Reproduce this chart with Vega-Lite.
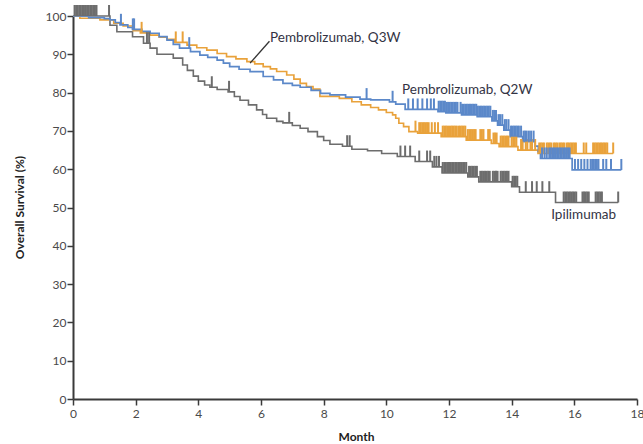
{
  "$schema": "https://vega.github.io/schema/vega-lite/v6.json",
  "width": 564,
  "height": 383,
  "autosize": "none",
  "padding": {"left": 73, "top": 16, "right": 6, "bottom": 45},
  "background": "white",
  "config": {"view": {"stroke": null}, "font": "Lato"},
  "datasets": {
    "curves": [
      {"arm": "Ipilimumab", "t": 0, "s": 100}, {"arm": "Ipilimumab", "t": 1.18, "s": 97.6}, {"arm": "Ipilimumab", "t": 1.4, "s": 95.9}, {"arm": "Ipilimumab", "t": 1.9, "s": 94.6}, {"arm": "Ipilimumab", "t": 2.25, "s": 92.9}, {"arm": "Ipilimumab", "t": 2.46, "s": 91.6}, {"arm": "Ipilimumab", "t": 2.68, "s": 90.0}, {"arm": "Ipilimumab", "t": 3.2, "s": 89.0}, {"arm": "Ipilimumab", "t": 3.5, "s": 87.2}, {"arm": "Ipilimumab", "t": 3.65, "s": 85.8}, {"arm": "Ipilimumab", "t": 3.84, "s": 84.3}, {"arm": "Ipilimumab", "t": 4.0, "s": 83.0}, {"arm": "Ipilimumab", "t": 4.2, "s": 82.0}, {"arm": "Ipilimumab", "t": 4.37, "s": 81.4}, {"arm": "Ipilimumab", "t": 4.6, "s": 80.8}, {"arm": "Ipilimumab", "t": 4.95, "s": 80.2}, {"arm": "Ipilimumab", "t": 5.15, "s": 79.0}, {"arm": "Ipilimumab", "t": 5.33, "s": 78.0}, {"arm": "Ipilimumab", "t": 5.6, "s": 76.8}, {"arm": "Ipilimumab", "t": 5.86, "s": 75.5}, {"arm": "Ipilimumab", "t": 6.05, "s": 74.3}, {"arm": "Ipilimumab", "t": 6.18, "s": 73.3}, {"arm": "Ipilimumab", "t": 6.5, "s": 72.5}, {"arm": "Ipilimumab", "t": 6.7, "s": 72.1}, {"arm": "Ipilimumab", "t": 7.0, "s": 71.4}, {"arm": "Ipilimumab", "t": 7.25, "s": 70.7}, {"arm": "Ipilimumab", "t": 7.5, "s": 69.8}, {"arm": "Ipilimumab", "t": 7.8, "s": 68.5}, {"arm": "Ipilimumab", "t": 8.0, "s": 67.5}, {"arm": "Ipilimumab", "t": 8.2, "s": 66.5}, {"arm": "Ipilimumab", "t": 8.6, "s": 66.0}, {"arm": "Ipilimumab", "t": 8.9, "s": 65.2}, {"arm": "Ipilimumab", "t": 9.4, "s": 64.8}, {"arm": "Ipilimumab", "t": 9.85, "s": 64.1}, {"arm": "Ipilimumab", "t": 10.35, "s": 63.3}, {"arm": "Ipilimumab", "t": 10.92, "s": 62.0}, {"arm": "Ipilimumab", "t": 11.47, "s": 60.6}, {"arm": "Ipilimumab", "t": 11.78, "s": 59.0}, {"arm": "Ipilimumab", "t": 12.6, "s": 58.0}, {"arm": "Ipilimumab", "t": 12.95, "s": 56.7}, {"arm": "Ipilimumab", "t": 14.0, "s": 55.4}, {"arm": "Ipilimumab", "t": 14.25, "s": 54.0}, {"arm": "Ipilimumab", "t": 15.4, "s": 51.3}, {"arm": "Ipilimumab", "t": 17.4, "s": 51.3},

      {"arm": "Q3W", "t": 0, "s": 100}, {"arm": "Q3W", "t": 0.22, "s": 99.4}, {"arm": "Q3W", "t": 0.86, "s": 99.0}, {"arm": "Q3W", "t": 1.3, "s": 98.1}, {"arm": "Q3W", "t": 1.6, "s": 97.4}, {"arm": "Q3W", "t": 1.92, "s": 96.2}, {"arm": "Q3W", "t": 2.15, "s": 95.6}, {"arm": "Q3W", "t": 2.46, "s": 95.0}, {"arm": "Q3W", "t": 2.75, "s": 94.5}, {"arm": "Q3W", "t": 3.0, "s": 93.9}, {"arm": "Q3W", "t": 3.25, "s": 93.1}, {"arm": "Q3W", "t": 3.64, "s": 92.4}, {"arm": "Q3W", "t": 3.95, "s": 91.7}, {"arm": "Q3W", "t": 4.27, "s": 91.1}, {"arm": "Q3W", "t": 4.6, "s": 90.2}, {"arm": "Q3W", "t": 4.9, "s": 89.4}, {"arm": "Q3W", "t": 5.2, "s": 88.8}, {"arm": "Q3W", "t": 5.55, "s": 88.1}, {"arm": "Q3W", "t": 5.8, "s": 87.5}, {"arm": "Q3W", "t": 6.07, "s": 86.8}, {"arm": "Q3W", "t": 6.3, "s": 86.2}, {"arm": "Q3W", "t": 6.5, "s": 85.5}, {"arm": "Q3W", "t": 6.82, "s": 84.6}, {"arm": "Q3W", "t": 7.05, "s": 83.5}, {"arm": "Q3W", "t": 7.25, "s": 82.4}, {"arm": "Q3W", "t": 7.45, "s": 81.6}, {"arm": "Q3W", "t": 7.66, "s": 80.9}, {"arm": "Q3W", "t": 7.88, "s": 79.0}, {"arm": "Q3W", "t": 8.5, "s": 78.5}, {"arm": "Q3W", "t": 8.9, "s": 77.6}, {"arm": "Q3W", "t": 9.2, "s": 76.8}, {"arm": "Q3W", "t": 9.5, "s": 76.1}, {"arm": "Q3W", "t": 9.75, "s": 75.5}, {"arm": "Q3W", "t": 10.0, "s": 74.8}, {"arm": "Q3W", "t": 10.2, "s": 74.2}, {"arm": "Q3W", "t": 10.3, "s": 73.3}, {"arm": "Q3W", "t": 10.4, "s": 72.0}, {"arm": "Q3W", "t": 10.55, "s": 71.1}, {"arm": "Q3W", "t": 10.72, "s": 69.8}, {"arm": "Q3W", "t": 11.0, "s": 69.4}, {"arm": "Q3W", "t": 11.75, "s": 68.5}, {"arm": "Q3W", "t": 12.55, "s": 67.6}, {"arm": "Q3W", "t": 13.35, "s": 66.7}, {"arm": "Q3W", "t": 13.6, "s": 65.9}, {"arm": "Q3W", "t": 14.2, "s": 65.0}, {"arm": "Q3W", "t": 14.84, "s": 64.1}, {"arm": "Q3W", "t": 17.24, "s": 64.1},

      {"arm": "Q2W", "t": 0, "s": 100}, {"arm": "Q2W", "t": 0.5, "s": 99.6}, {"arm": "Q2W", "t": 1.0, "s": 99.3}, {"arm": "Q2W", "t": 1.18, "s": 99.0}, {"arm": "Q2W", "t": 1.35, "s": 98.3}, {"arm": "Q2W", "t": 1.5, "s": 97.7}, {"arm": "Q2W", "t": 1.75, "s": 97.0}, {"arm": "Q2W", "t": 1.9, "s": 96.5}, {"arm": "Q2W", "t": 2.2, "s": 96.0}, {"arm": "Q2W", "t": 2.46, "s": 95.5}, {"arm": "Q2W", "t": 2.75, "s": 94.6}, {"arm": "Q2W", "t": 3.0, "s": 93.7}, {"arm": "Q2W", "t": 3.2, "s": 92.6}, {"arm": "Q2W", "t": 3.4, "s": 91.6}, {"arm": "Q2W", "t": 3.75, "s": 90.7}, {"arm": "Q2W", "t": 4.05, "s": 89.8}, {"arm": "Q2W", "t": 4.3, "s": 89.2}, {"arm": "Q2W", "t": 4.6, "s": 88.5}, {"arm": "Q2W", "t": 4.8, "s": 87.7}, {"arm": "Q2W", "t": 5.0, "s": 86.8}, {"arm": "Q2W", "t": 5.3, "s": 86.1}, {"arm": "Q2W", "t": 5.65, "s": 85.5}, {"arm": "Q2W", "t": 6.07, "s": 84.2}, {"arm": "Q2W", "t": 6.4, "s": 83.3}, {"arm": "Q2W", "t": 6.7, "s": 82.4}, {"arm": "Q2W", "t": 7.0, "s": 81.9}, {"arm": "Q2W", "t": 7.25, "s": 81.4}, {"arm": "Q2W", "t": 7.6, "s": 80.6}, {"arm": "Q2W", "t": 7.9, "s": 79.8}, {"arm": "Q2W", "t": 8.2, "s": 79.4}, {"arm": "Q2W", "t": 8.7, "s": 78.8}, {"arm": "Q2W", "t": 9.16, "s": 78.3}, {"arm": "Q2W", "t": 9.5, "s": 78.1}, {"arm": "Q2W", "t": 10.1, "s": 77.6}, {"arm": "Q2W", "t": 10.3, "s": 77.0}, {"arm": "Q2W", "t": 10.6, "s": 75.6}, {"arm": "Q2W", "t": 11.65, "s": 75.0}, {"arm": "Q2W", "t": 11.9, "s": 74.7}, {"arm": "Q2W", "t": 12.4, "s": 74.2}, {"arm": "Q2W", "t": 12.9, "s": 73.7}, {"arm": "Q2W", "t": 13.37, "s": 72.6}, {"arm": "Q2W", "t": 13.55, "s": 71.5}, {"arm": "Q2W", "t": 13.75, "s": 70.2}, {"arm": "Q2W", "t": 13.95, "s": 68.5}, {"arm": "Q2W", "t": 14.35, "s": 67.2}, {"arm": "Q2W", "t": 14.75, "s": 66.0}, {"arm": "Q2W", "t": 14.85, "s": 64.6}, {"arm": "Q2W", "t": 14.92, "s": 62.8}, {"arm": "Q2W", "t": 15.93, "s": 59.8}, {"arm": "Q2W", "t": 17.5, "s": 59.8}
    ],
    "censors": [
      {"arm": "Ipilimumab", "t": 0.05, "s": 100}, {"arm": "Ipilimumab", "t": 0.1, "s": 100}, {"arm": "Ipilimumab", "t": 0.15, "s": 100}, {"arm": "Ipilimumab", "t": 0.2, "s": 100}, {"arm": "Ipilimumab", "t": 0.25, "s": 100}, {"arm": "Ipilimumab", "t": 0.3, "s": 100}, {"arm": "Ipilimumab", "t": 0.35, "s": 100}, {"arm": "Ipilimumab", "t": 0.4, "s": 100}, {"arm": "Ipilimumab", "t": 0.45, "s": 100}, {"arm": "Ipilimumab", "t": 0.5, "s": 100}, {"arm": "Ipilimumab", "t": 0.55, "s": 100}, {"arm": "Ipilimumab", "t": 0.6, "s": 100}, {"arm": "Ipilimumab", "t": 0.65, "s": 100}, {"arm": "Ipilimumab", "t": 0.7, "s": 100}, {"arm": "Ipilimumab", "t": 0.75, "s": 100},
      {"arm": "Ipilimumab", "t": 1.15, "s": 100}, {"arm": "Ipilimumab", "t": 2.36, "s": 92.9}, {"arm": "Ipilimumab", "t": 2.43, "s": 92.9}, {"arm": "Ipilimumab", "t": 4.43, "s": 81.4}, {"arm": "Ipilimumab", "t": 4.98, "s": 80.2}, {"arm": "Ipilimumab", "t": 6.9, "s": 72.1}, {"arm": "Ipilimumab", "t": 8.75, "s": 66.0}, {"arm": "Ipilimumab", "t": 8.83, "s": 66.0},
      {"arm": "Ipilimumab", "t": 10.45, "s": 63.3}, {"arm": "Ipilimumab", "t": 10.6, "s": 63.3}, {"arm": "Ipilimumab", "t": 10.76, "s": 63.3}, {"arm": "Ipilimumab", "t": 11.05, "s": 62.0}, {"arm": "Ipilimumab", "t": 11.3, "s": 62.0}, {"arm": "Ipilimumab", "t": 11.4, "s": 62.0}, {"arm": "Ipilimumab", "t": 11.53, "s": 60.6}, {"arm": "Ipilimumab", "t": 11.6, "s": 60.6}, {"arm": "Ipilimumab", "t": 11.68, "s": 60.6},
      {"arm": "Ipilimumab", "t": 11.8, "s": 59.0}, {"arm": "Ipilimumab", "t": 11.85, "s": 59.0}, {"arm": "Ipilimumab", "t": 11.9, "s": 59.0}, {"arm": "Ipilimumab", "t": 11.95, "s": 59.0}, {"arm": "Ipilimumab", "t": 12.0, "s": 59.0}, {"arm": "Ipilimumab", "t": 12.05, "s": 59.0}, {"arm": "Ipilimumab", "t": 12.1, "s": 59.0}, {"arm": "Ipilimumab", "t": 12.15, "s": 59.0}, {"arm": "Ipilimumab", "t": 12.2, "s": 59.0}, {"arm": "Ipilimumab", "t": 12.25, "s": 59.0}, {"arm": "Ipilimumab", "t": 12.3, "s": 59.0}, {"arm": "Ipilimumab", "t": 12.35, "s": 59.0}, {"arm": "Ipilimumab", "t": 12.4, "s": 59.0}, {"arm": "Ipilimumab", "t": 12.45, "s": 59.0}, {"arm": "Ipilimumab", "t": 12.5, "s": 59.0}, {"arm": "Ipilimumab", "t": 12.55, "s": 59.0},
      {"arm": "Ipilimumab", "t": 12.64, "s": 58.0}, {"arm": "Ipilimumab", "t": 12.69, "s": 58.0}, {"arm": "Ipilimumab", "t": 12.74, "s": 58.0}, {"arm": "Ipilimumab", "t": 12.79, "s": 58.0}, {"arm": "Ipilimumab", "t": 12.84, "s": 58.0}, {"arm": "Ipilimumab", "t": 12.89, "s": 58.0},
      {"arm": "Ipilimumab", "t": 13.0, "s": 56.7}, {"arm": "Ipilimumab", "t": 13.05, "s": 56.7}, {"arm": "Ipilimumab", "t": 13.1, "s": 56.7}, {"arm": "Ipilimumab", "t": 13.15, "s": 56.7}, {"arm": "Ipilimumab", "t": 13.2, "s": 56.7}, {"arm": "Ipilimumab", "t": 13.25, "s": 56.7}, {"arm": "Ipilimumab", "t": 13.3, "s": 56.7}, {"arm": "Ipilimumab", "t": 13.4, "s": 56.7}, {"arm": "Ipilimumab", "t": 13.45, "s": 56.7}, {"arm": "Ipilimumab", "t": 13.5, "s": 56.7}, {"arm": "Ipilimumab", "t": 13.55, "s": 56.7}, {"arm": "Ipilimumab", "t": 13.65, "s": 56.7}, {"arm": "Ipilimumab", "t": 13.7, "s": 56.7}, {"arm": "Ipilimumab", "t": 13.75, "s": 56.7}, {"arm": "Ipilimumab", "t": 13.8, "s": 56.7}, {"arm": "Ipilimumab", "t": 13.85, "s": 56.7}, {"arm": "Ipilimumab", "t": 13.9, "s": 56.7},
      {"arm": "Ipilimumab", "t": 14.03, "s": 55.4}, {"arm": "Ipilimumab", "t": 14.08, "s": 55.4}, {"arm": "Ipilimumab", "t": 14.13, "s": 55.4}, {"arm": "Ipilimumab", "t": 14.18, "s": 55.4},
      {"arm": "Ipilimumab", "t": 14.45, "s": 54.0}, {"arm": "Ipilimumab", "t": 14.65, "s": 54.0}, {"arm": "Ipilimumab", "t": 14.8, "s": 54.0}, {"arm": "Ipilimumab", "t": 14.98, "s": 54.0}, {"arm": "Ipilimumab", "t": 15.2, "s": 54.0},
      {"arm": "Ipilimumab", "t": 15.66, "s": 51.3}, {"arm": "Ipilimumab", "t": 15.71, "s": 51.3}, {"arm": "Ipilimumab", "t": 15.76, "s": 51.3}, {"arm": "Ipilimumab", "t": 15.81, "s": 51.3}, {"arm": "Ipilimumab", "t": 15.86, "s": 51.3}, {"arm": "Ipilimumab", "t": 15.91, "s": 51.3}, {"arm": "Ipilimumab", "t": 15.96, "s": 51.3}, {"arm": "Ipilimumab", "t": 16.01, "s": 51.3}, {"arm": "Ipilimumab", "t": 16.06, "s": 51.3},
      {"arm": "Ipilimumab", "t": 16.26, "s": 51.3}, {"arm": "Ipilimumab", "t": 16.31, "s": 51.3}, {"arm": "Ipilimumab", "t": 16.36, "s": 51.3}, {"arm": "Ipilimumab", "t": 16.41, "s": 51.3}, {"arm": "Ipilimumab", "t": 16.46, "s": 51.3},
      {"arm": "Ipilimumab", "t": 16.68, "s": 51.3}, {"arm": "Ipilimumab", "t": 16.73, "s": 51.3}, {"arm": "Ipilimumab", "t": 16.78, "s": 51.3}, {"arm": "Ipilimumab", "t": 16.83, "s": 51.3}, {"arm": "Ipilimumab", "t": 16.88, "s": 51.3}, {"arm": "Ipilimumab", "t": 17.4, "s": 51.3},

      {"arm": "Q3W", "t": 2.19, "s": 95.6}, {"arm": "Q3W", "t": 3.28, "s": 93.1}, {"arm": "Q3W", "t": 3.5, "s": 93.1},
      {"arm": "Q3W", "t": 10.93, "s": 69.8}, {"arm": "Q3W", "t": 11.05, "s": 69.4}, {"arm": "Q3W", "t": 11.1, "s": 69.4}, {"arm": "Q3W", "t": 11.15, "s": 69.4}, {"arm": "Q3W", "t": 11.2, "s": 69.4}, {"arm": "Q3W", "t": 11.25, "s": 69.4}, {"arm": "Q3W", "t": 11.3, "s": 69.4}, {"arm": "Q3W", "t": 11.35, "s": 69.4}, {"arm": "Q3W", "t": 11.45, "s": 69.4}, {"arm": "Q3W", "t": 11.55, "s": 69.4}, {"arm": "Q3W", "t": 11.65, "s": 69.4},
      {"arm": "Q3W", "t": 11.8, "s": 68.5}, {"arm": "Q3W", "t": 11.85, "s": 68.5}, {"arm": "Q3W", "t": 11.9, "s": 68.5}, {"arm": "Q3W", "t": 11.95, "s": 68.5}, {"arm": "Q3W", "t": 12.0, "s": 68.5}, {"arm": "Q3W", "t": 12.05, "s": 68.5}, {"arm": "Q3W", "t": 12.1, "s": 68.5}, {"arm": "Q3W", "t": 12.15, "s": 68.5}, {"arm": "Q3W", "t": 12.2, "s": 68.5}, {"arm": "Q3W", "t": 12.25, "s": 68.5}, {"arm": "Q3W", "t": 12.32, "s": 68.5}, {"arm": "Q3W", "t": 12.37, "s": 68.5}, {"arm": "Q3W", "t": 12.42, "s": 68.5}, {"arm": "Q3W", "t": 12.47, "s": 68.5}, {"arm": "Q3W", "t": 12.52, "s": 68.5},
      {"arm": "Q3W", "t": 12.6, "s": 67.6}, {"arm": "Q3W", "t": 12.65, "s": 67.6}, {"arm": "Q3W", "t": 12.7, "s": 67.6}, {"arm": "Q3W", "t": 12.75, "s": 67.6}, {"arm": "Q3W", "t": 12.8, "s": 67.6}, {"arm": "Q3W", "t": 12.85, "s": 67.6}, {"arm": "Q3W", "t": 13.0, "s": 67.6}, {"arm": "Q3W", "t": 13.05, "s": 67.6}, {"arm": "Q3W", "t": 13.1, "s": 67.6}, {"arm": "Q3W", "t": 13.25, "s": 67.6}, {"arm": "Q3W", "t": 13.3, "s": 67.6},
      {"arm": "Q3W", "t": 13.42, "s": 66.7}, {"arm": "Q3W", "t": 13.47, "s": 66.7}, {"arm": "Q3W", "t": 13.52, "s": 66.7},
      {"arm": "Q3W", "t": 13.65, "s": 65.9}, {"arm": "Q3W", "t": 13.7, "s": 65.9}, {"arm": "Q3W", "t": 13.75, "s": 65.9}, {"arm": "Q3W", "t": 13.8, "s": 65.9}, {"arm": "Q3W", "t": 13.85, "s": 65.9}, {"arm": "Q3W", "t": 13.9, "s": 65.9}, {"arm": "Q3W", "t": 14.0, "s": 65.9}, {"arm": "Q3W", "t": 14.05, "s": 65.9}, {"arm": "Q3W", "t": 14.1, "s": 65.9}, {"arm": "Q3W", "t": 14.15, "s": 65.9},
      {"arm": "Q3W", "t": 14.3, "s": 65.0}, {"arm": "Q3W", "t": 14.35, "s": 65.0}, {"arm": "Q3W", "t": 14.45, "s": 65.0}, {"arm": "Q3W", "t": 14.5, "s": 65.0}, {"arm": "Q3W", "t": 14.6, "s": 65.0}, {"arm": "Q3W", "t": 14.65, "s": 65.0}, {"arm": "Q3W", "t": 14.75, "s": 65.0},
      {"arm": "Q3W", "t": 14.88, "s": 64.1}, {"arm": "Q3W", "t": 14.93, "s": 64.1}, {"arm": "Q3W", "t": 14.98, "s": 64.1}, {"arm": "Q3W", "t": 15.03, "s": 64.1}, {"arm": "Q3W", "t": 15.12, "s": 64.1}, {"arm": "Q3W", "t": 15.17, "s": 64.1}, {"arm": "Q3W", "t": 15.22, "s": 64.1}, {"arm": "Q3W", "t": 15.27, "s": 64.1}, {"arm": "Q3W", "t": 15.35, "s": 64.1}, {"arm": "Q3W", "t": 15.4, "s": 64.1}, {"arm": "Q3W", "t": 15.45, "s": 64.1}, {"arm": "Q3W", "t": 15.52, "s": 64.1}, {"arm": "Q3W", "t": 15.57, "s": 64.1}, {"arm": "Q3W", "t": 15.62, "s": 64.1}, {"arm": "Q3W", "t": 15.67, "s": 64.1}, {"arm": "Q3W", "t": 15.75, "s": 64.1}, {"arm": "Q3W", "t": 15.8, "s": 64.1}, {"arm": "Q3W", "t": 15.85, "s": 64.1}, {"arm": "Q3W", "t": 15.9, "s": 64.1}, {"arm": "Q3W", "t": 15.95, "s": 64.1}, {"arm": "Q3W", "t": 16.0, "s": 64.1}, {"arm": "Q3W", "t": 16.05, "s": 64.1},
      {"arm": "Q3W", "t": 16.3, "s": 64.1}, {"arm": "Q3W", "t": 16.38, "s": 64.1},
      {"arm": "Q3W", "t": 16.6, "s": 64.1}, {"arm": "Q3W", "t": 16.65, "s": 64.1}, {"arm": "Q3W", "t": 16.7, "s": 64.1}, {"arm": "Q3W", "t": 16.75, "s": 64.1}, {"arm": "Q3W", "t": 16.8, "s": 64.1}, {"arm": "Q3W", "t": 16.85, "s": 64.1}, {"arm": "Q3W", "t": 16.9, "s": 64.1}, {"arm": "Q3W", "t": 16.95, "s": 64.1}, {"arm": "Q3W", "t": 17.0, "s": 64.1}, {"arm": "Q3W", "t": 17.05, "s": 64.1}, {"arm": "Q3W", "t": 17.24, "s": 64.1},

      {"arm": "Q2W", "t": 1.53, "s": 97.7}, {"arm": "Q2W", "t": 1.91, "s": 96.5}, {"arm": "Q2W", "t": 1.95, "s": 96.5}, {"arm": "Q2W", "t": 3.71, "s": 91.6}, {"arm": "Q2W", "t": 9.37, "s": 78.3}, {"arm": "Q2W", "t": 10.2, "s": 77.6},
      {"arm": "Q2W", "t": 10.7, "s": 75.6}, {"arm": "Q2W", "t": 10.85, "s": 75.6}, {"arm": "Q2W", "t": 11.0, "s": 75.6}, {"arm": "Q2W", "t": 11.15, "s": 75.6}, {"arm": "Q2W", "t": 11.3, "s": 75.6}, {"arm": "Q2W", "t": 11.42, "s": 75.6}, {"arm": "Q2W", "t": 11.52, "s": 75.6},
      {"arm": "Q2W", "t": 11.67, "s": 75.0}, {"arm": "Q2W", "t": 11.72, "s": 75.0}, {"arm": "Q2W", "t": 11.77, "s": 75.0}, {"arm": "Q2W", "t": 11.82, "s": 75.0}, {"arm": "Q2W", "t": 11.87, "s": 75.0},
      {"arm": "Q2W", "t": 11.92, "s": 74.7}, {"arm": "Q2W", "t": 11.97, "s": 74.7}, {"arm": "Q2W", "t": 12.02, "s": 74.7}, {"arm": "Q2W", "t": 12.07, "s": 74.7}, {"arm": "Q2W", "t": 12.12, "s": 74.7}, {"arm": "Q2W", "t": 12.17, "s": 74.7}, {"arm": "Q2W", "t": 12.22, "s": 74.7}, {"arm": "Q2W", "t": 12.27, "s": 74.7}, {"arm": "Q2W", "t": 12.37, "s": 74.7},
      {"arm": "Q2W", "t": 12.42, "s": 74.2}, {"arm": "Q2W", "t": 12.47, "s": 74.2}, {"arm": "Q2W", "t": 12.52, "s": 74.2}, {"arm": "Q2W", "t": 12.57, "s": 74.2}, {"arm": "Q2W", "t": 12.62, "s": 74.2}, {"arm": "Q2W", "t": 12.67, "s": 74.2}, {"arm": "Q2W", "t": 12.72, "s": 74.2}, {"arm": "Q2W", "t": 12.77, "s": 74.2}, {"arm": "Q2W", "t": 12.82, "s": 74.2}, {"arm": "Q2W", "t": 12.87, "s": 74.2},
      {"arm": "Q2W", "t": 12.92, "s": 73.7}, {"arm": "Q2W", "t": 12.97, "s": 73.7}, {"arm": "Q2W", "t": 13.02, "s": 73.7}, {"arm": "Q2W", "t": 13.07, "s": 73.7}, {"arm": "Q2W", "t": 13.12, "s": 73.7}, {"arm": "Q2W", "t": 13.17, "s": 73.7}, {"arm": "Q2W", "t": 13.22, "s": 73.7}, {"arm": "Q2W", "t": 13.27, "s": 73.7}, {"arm": "Q2W", "t": 13.32, "s": 73.7},
      {"arm": "Q2W", "t": 13.4, "s": 72.6}, {"arm": "Q2W", "t": 13.45, "s": 72.6}, {"arm": "Q2W", "t": 13.5, "s": 72.6},
      {"arm": "Q2W", "t": 13.58, "s": 71.5}, {"arm": "Q2W", "t": 13.63, "s": 71.5}, {"arm": "Q2W", "t": 13.7, "s": 71.5},
      {"arm": "Q2W", "t": 13.78, "s": 70.2}, {"arm": "Q2W", "t": 13.83, "s": 70.2}, {"arm": "Q2W", "t": 13.9, "s": 70.2},
      {"arm": "Q2W", "t": 13.98, "s": 68.5}, {"arm": "Q2W", "t": 14.03, "s": 68.5}, {"arm": "Q2W", "t": 14.08, "s": 68.5}, {"arm": "Q2W", "t": 14.13, "s": 68.5}, {"arm": "Q2W", "t": 14.18, "s": 68.5}, {"arm": "Q2W", "t": 14.23, "s": 68.5}, {"arm": "Q2W", "t": 14.3, "s": 68.5},
      {"arm": "Q2W", "t": 14.38, "s": 67.2}, {"arm": "Q2W", "t": 14.43, "s": 67.2}, {"arm": "Q2W", "t": 14.48, "s": 67.2}, {"arm": "Q2W", "t": 14.55, "s": 67.2}, {"arm": "Q2W", "t": 14.62, "s": 67.2}, {"arm": "Q2W", "t": 14.7, "s": 67.2},
      {"arm": "Q2W", "t": 14.97, "s": 62.8}, {"arm": "Q2W", "t": 15.05, "s": 62.8}, {"arm": "Q2W", "t": 15.12, "s": 62.8}, {"arm": "Q2W", "t": 15.2, "s": 62.8}, {"arm": "Q2W", "t": 15.25, "s": 62.8}, {"arm": "Q2W", "t": 15.3, "s": 62.8}, {"arm": "Q2W", "t": 15.35, "s": 62.8}, {"arm": "Q2W", "t": 15.4, "s": 62.8}, {"arm": "Q2W", "t": 15.45, "s": 62.8}, {"arm": "Q2W", "t": 15.5, "s": 62.8}, {"arm": "Q2W", "t": 15.55, "s": 62.8}, {"arm": "Q2W", "t": 15.6, "s": 62.8}, {"arm": "Q2W", "t": 15.65, "s": 62.8}, {"arm": "Q2W", "t": 15.7, "s": 62.8}, {"arm": "Q2W", "t": 15.75, "s": 62.8}, {"arm": "Q2W", "t": 15.8, "s": 62.8}, {"arm": "Q2W", "t": 15.85, "s": 62.8},
      {"arm": "Q2W", "t": 16.02, "s": 59.8}, {"arm": "Q2W", "t": 16.12, "s": 59.8}, {"arm": "Q2W", "t": 16.22, "s": 59.8}, {"arm": "Q2W", "t": 16.32, "s": 59.8}, {"arm": "Q2W", "t": 16.42, "s": 59.8}, {"arm": "Q2W", "t": 16.52, "s": 59.8}, {"arm": "Q2W", "t": 16.57, "s": 59.8}, {"arm": "Q2W", "t": 16.62, "s": 59.8}, {"arm": "Q2W", "t": 16.67, "s": 59.8}, {"arm": "Q2W", "t": 16.72, "s": 59.8}, {"arm": "Q2W", "t": 16.77, "s": 59.8}, {"arm": "Q2W", "t": 16.92, "s": 59.8}, {"arm": "Q2W", "t": 17.02, "s": 59.8}, {"arm": "Q2W", "t": 17.17, "s": 59.8}, {"arm": "Q2W", "t": 17.5, "s": 59.8}
    ],
    "labels": [
      {"text": "Pembrolizumab, Q3W", "t": 6.29, "s": 94.3},
      {"text": "Pembrolizumab, Q2W", "t": 10.5, "s": 80.7},
      {"text": "Ipilimumab", "t": 15.26, "s": 48.0}
    ],
    "leader": [
      {"t": 5.65, "s": 87.7, "t2": 6.27, "s2": 93.4}
    ]
  },
  "encoding": {
    "x": {"field": "t", "type": "quantitative", "scale": {"domain": [0, 18], "nice": false},
      "axis": {"title": "Month", "values": [0, 2, 4, 6, 8, 10, 12, 14, 16, 18], "grid": false, "labelOverlap": false, "labelBound": false,
        "domainColor": "#3a3a3a", "domainWidth": 2, "tickColor": "#3a3a3a", "tickWidth": 1.5, "tickSize": 6,
        "labelFont": "Lato", "labelFontSize": 12, "labelColor": "#4a4a4a", "labelPadding": 3, "labelFlush": false,
        "titleFont": "Lato", "titleFontSize": 12, "titleFontWeight": "bold", "titleColor": "#222",
        "titleX": 283, "titleY": 41, "titleBaseline": "alphabetic", "titleAlign": "center"}},
    "y": {"field": "s", "type": "quantitative", "scale": {"domain": [0, 100], "nice": false},
      "axis": {"title": "Overall Survival (%)", "values": [0, 10, 20, 30, 40, 50, 60, 70, 80, 90, 100], "grid": false, "labelOverlap": false,
        "domainColor": "#3a3a3a", "domainWidth": 2, "tickColor": "#3a3a3a", "tickWidth": 1.5, "tickSize": 6,
        "labelFont": "Lato", "labelFontSize": 12, "labelColor": "#4a4a4a", "labelPadding": 1,
        "titleFont": "Lato", "titleFontSize": 12, "titleFontWeight": "bold", "titleColor": "#222",
        "titleX": -54, "titleY": 191, "titleAngle": -90, "titleBaseline": "middle", "titleAlign": "center"}}
  },
  "layer": [
    {
      "data": {"name": "curves"},
      "mark": {"type": "line", "interpolate": "step-after"},
      "encoding": {
        "color": {"field": "arm", "type": "nominal", "scale": {"domain": ["Ipilimumab", "Q3W", "Q2W"], "range": ["#6d6d6d", "#E9A23B", "#5B88C9"]}, "legend": null},
        "strokeWidth": {"field": "arm", "type": "nominal", "scale": {"domain": ["Ipilimumab", "Q3W", "Q2W"], "range": [1.6, 1.7, 2.5]}, "legend": null},
        "order": {"field": "t", "type": "quantitative"}
      }
    },
    {
      "data": {"name": "censors"},
      "mark": {"type": "tick", "orient": "vertical", "size": 11, "thickness": 2, "yOffset": -5.5, "opacity": 1},
      "encoding": {
        "color": {"field": "arm", "type": "nominal", "legend": null}
      }
    },
    {
      "data": {"name": "leader"},
      "mark": {"type": "rule", "color": "#333", "strokeWidth": 1.3},
      "encoding": {
        "x2": {"field": "t2"},
        "y2": {"field": "s2"}
      }
    },
    {
      "data": {"name": "labels"},
      "mark": {"type": "text", "align": "left", "baseline": "middle", "font": "Lato", "fontSize": 13.5, "color": "#333344"},
      "encoding": {
        "text": {"field": "text"}
      }
    }
  ]
}
